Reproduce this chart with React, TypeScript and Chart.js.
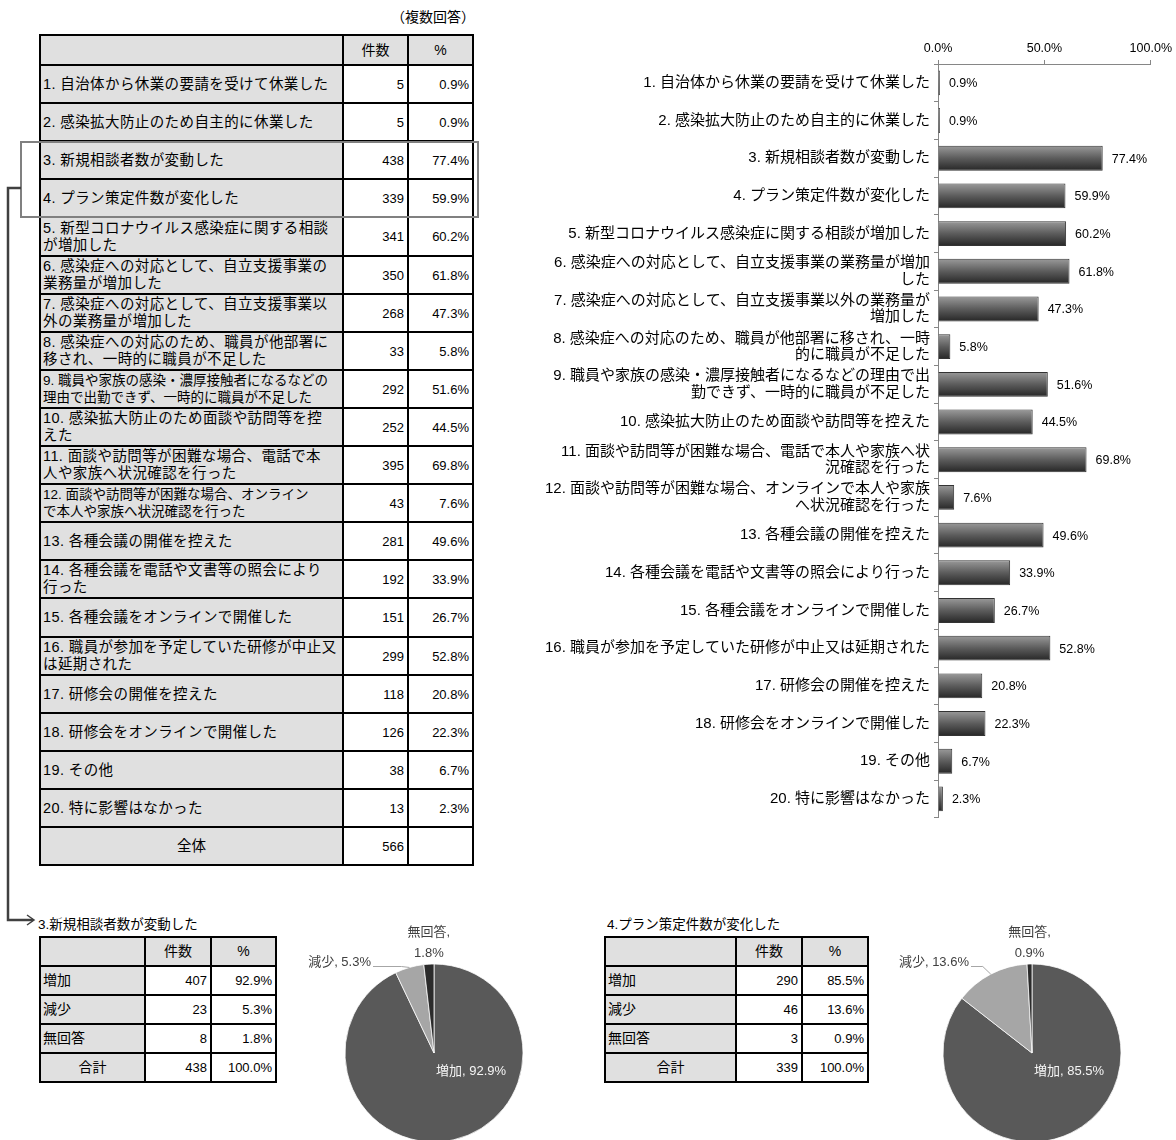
import React, { useEffect, useRef } from 'react';
import { Chart, registerables } from 'chart.js';

Chart.register(...registerables);

const FONT = "'Liberation Sans', 'Noto Sans CJK JP', sans-serif";

// ---------- data ----------
const barLabels: (string | string[])[] = [
  '1. 自治体から休業の要請を受けて休業した',
  '2. 感染拡大防止のため自主的に休業した',
  '3. 新規相談者数が変動した',
  '4. プラン策定件数が変化した',
  '5. 新型コロナウイルス感染症に関する相談が増加した',
  ['6. 感染症への対応として、自立支援事業の業務量が増加', 'した'],
  ['7. 感染症への対応として、自立支援事業以外の業務量が', '増加した'],
  ['8. 感染症への対応のため、職員が他部署に移され、一時', '的に職員が不足した'],
  ['9. 職員や家族の感染・濃厚接触者になるなどの理由で出', '勤できず、一時的に職員が不足した'],
  '10. 感染拡大防止のため面談や訪問等を控えた',
  ['11. 面談や訪問等が困難な場合、電話で本人や家族へ状', '況確認を行った'],
  ['12. 面談や訪問等が困難な場合、オンラインで本人や家族', 'へ状況確認を行った'],
  '13. 各種会議の開催を控えた',
  '14. 各種会議を電話や文書等の照会により行った',
  '15. 各種会議をオンラインで開催した',
  '16. 職員が参加を予定していた研修が中止又は延期された',
  '17. 研修会の開催を控えた',
  '18. 研修会をオンラインで開催した',
  '19. その他',
  '20. 特に影響はなかった',
];

const tableLabels: string[][] = [
  ['1. 自治体から休業の要請を受けて休業した'],
  ['2. 感染拡大防止のため自主的に休業した'],
  ['3. 新規相談者数が変動した'],
  ['4. プラン策定件数が変化した'],
  ['5. 新型コロナウイルス感染症に関する相談', 'が増加した'],
  ['6. 感染症への対応として、自立支援事業の', '業務量が増加した'],
  ['7. 感染症への対応として、自立支援事業以', '外の業務量が増加した'],
  ['8. 感染症への対応のため、職員が他部署に', '移され、一時的に職員が不足した'],
  ['9. 職員や家族の感染・濃厚接触者になるなどの', '理由で出勤できず、一時的に職員が不足した'],
  ['10. 感染拡大防止のため面談や訪問等を控', 'えた'],
  ['11. 面談や訪問等が困難な場合、電話で本', '人や家族へ状況確認を行った'],
  ['12. 面談や訪問等が困難な場合、オンライン', 'で本人や家族へ状況確認を行った'],
  ['13. 各種会議の開催を控えた'],
  ['14. 各種会議を電話や文書等の照会により', '行った'],
  ['15. 各種会議をオンラインで開催した'],
  ['16. 職員が参加を予定していた研修が中止又', 'は延期された'],
  ['17. 研修会の開催を控えた'],
  ['18. 研修会をオンラインで開催した'],
  ['19. その他'],
  ['20. 特に影響はなかった'],
];

const counts = [5, 5, 438, 339, 341, 350, 268, 33, 292, 252, 395, 43, 281, 192, 151, 299, 118, 126, 38, 13];
const percents = [0.9, 0.9, 77.4, 59.9, 60.2, 61.8, 47.3, 5.8, 51.6, 44.5, 69.8, 7.6, 49.6, 33.9, 26.7, 52.8, 20.8, 22.3, 6.7, 2.3];
const totalLabel = '全体';
const totalCount = 566;
const axisTicks = [0, 50, 100];

const subCategories = ['増加', '減少', '無回答'];
const subTotalLabel = '合計';

const consultTitle = '3.新規相談者数が変動した';
const consultCounts = [407, 23, 8];
const consultPercents = [92.9, 5.3, 1.8];
const consultTotal = 438;
const consultTotalPct = 100.0;

const planTitle = '4.プラン策定件数が変化した';
const planCounts = [290, 46, 3];
const planPercents = [85.5, 13.6, 0.9];
const planTotal = 339;
const planTotalPct = 100.0;

// ---------- styles ----------
const GRAY = '#e0e0e0';
const pieColors = ['#595959', '#a6a6a6', '#2b2b2b'];
const compactRows = new Set([8, 11]);

type Cell = { lines: string[]; align: 'left' | 'right' | 'center'; bg: string; size: number; spacing?: number };

function GridTable({ xs, ys, cells }: { xs: number[]; ys: number[]; cells: Cell[][] }) {
  const ox = xs[0] - 1;
  const oy = ys[0] - 1;
  return (
    <div
      style={{
        position: 'absolute',
        left: ox,
        top: oy,
        width: xs[xs.length - 1] - xs[0] + 2,
        height: ys[ys.length - 1] - ys[0] + 2,
        background: '#000',
      }}
    >
      {cells.map((row, r) =>
        row.map((c, ci) => (
          <div
            key={r + '-' + ci}
            style={{
              position: 'absolute',
              left: xs[ci] + 1 - ox,
              top: ys[r] + 1 - oy,
              width: xs[ci + 1] - xs[ci] - 2,
              height: ys[r + 1] - ys[r] - 2,
              background: c.bg,
              display: 'flex',
              flexDirection: 'column',
              justifyContent: 'center',
              alignItems: c.align === 'left' ? 'flex-start' : c.align === 'right' ? 'flex-end' : 'center',
              paddingLeft: c.align === 'left' ? 2 : 0,
              paddingRight: c.align === 'right' ? 3 : 0,
              boxSizing: 'border-box',
              fontSize: c.size,
              letterSpacing: c.spacing ?? 0,
              lineHeight: '17px',
              whiteSpace: 'nowrap',
              overflow: 'hidden',
            }}
          >
            {c.lines.map((l, i) => (
              <div key={i}>{l}</div>
            ))}
          </div>
        ))
      )}
    </div>
  );
}

function MainTable() {
  const xs = [40, 343, 408, 473];
  const ys = [35, 65];
  for (let k = 1; k <= tableLabels.length + 1; k++) ys.push(Math.round(65 + 38.1 * k));
  const cells: Cell[][] = [];
  cells.push([
    { lines: [''], align: 'center', bg: GRAY, size: 14 },
    { lines: ['件数'], align: 'center', bg: GRAY, size: 14 },
    { lines: ['%'], align: 'center', bg: GRAY, size: 14 },
  ]);
  tableLabels.forEach((lab, i) => {
    const compact = compactRows.has(i);
    cells.push([
      { lines: lab, align: 'left', bg: GRAY, size: compact ? 13.5 : 14.5, spacing: compact ? 0 : 0.4 },
      { lines: [String(counts[i])], align: 'right', bg: '#fff', size: 13 },
      { lines: [percents[i].toFixed(1) + '%'], align: 'right', bg: '#fff', size: 13 },
    ]);
  });
  cells.push([
    { lines: [totalLabel], align: 'center', bg: GRAY, size: 14.5 },
    { lines: [String(totalCount)], align: 'right', bg: '#fff', size: 13 },
    { lines: [''], align: 'right', bg: '#fff', size: 13 },
  ]);
  return <GridTable xs={xs} ys={ys} cells={cells} />;
}

function SmallTable({ xs, cnts, pcts, total, totalPct }: { xs: number[]; cnts: number[]; pcts: number[]; total: number; totalPct: number }) {
  const ys = [937, 966, 995, 1024, 1053, 1082];
  const cells: Cell[][] = [];
  cells.push([
    { lines: [''], align: 'center', bg: GRAY, size: 14 },
    { lines: ['件数'], align: 'center', bg: GRAY, size: 14 },
    { lines: ['%'], align: 'center', bg: GRAY, size: 14 },
  ]);
  subCategories.forEach((s, i) => {
    cells.push([
      { lines: [s], align: 'left', bg: GRAY, size: 14 },
      { lines: [String(cnts[i])], align: 'right', bg: '#fff', size: 13 },
      { lines: [pcts[i].toFixed(1) + '%'], align: 'right', bg: '#fff', size: 13 },
    ]);
  });
  cells.push([
    { lines: [subTotalLabel], align: 'center', bg: GRAY, size: 14 },
    { lines: [String(total)], align: 'right', bg: '#fff', size: 13 },
    { lines: [totalPct.toFixed(1) + '%'], align: 'right', bg: '#fff', size: 13 },
  ]);
  return <GridTable xs={xs} ys={ys} cells={cells} />;
}

const barValueLabels = {
  id: 'barValueLabels',
  afterDatasetsDraw(chart: any) {
    const ctx = chart.ctx;
    const meta = chart.getDatasetMeta(0);
    ctx.save();
    ctx.font = `12.5px ${FONT}`;
    ctx.fillStyle = '#000';
    ctx.textBaseline = 'middle';
    ctx.textAlign = 'left';
    meta.data.forEach((bar: any, i: number) => {
      const v = chart.data.datasets[0].data[i] as number;
      ctx.fillText(`${v.toFixed(1)}%`, bar.x + 9, bar.y + 1);
    });
    ctx.restore();
  },
};

const BAR_PCT = 0.66;

function BarChart() {
  const ref = useRef<HTMLCanvasElement>(null);
  useEffect(() => {
    const chart = new Chart(ref.current!, {
      type: 'bar',
      data: {
        labels: barLabels as any,
        datasets: [
          {
            data: percents,
            backgroundColor: (c: any) => {
              const ch = c.chart;
              const ys = ch.scales && ch.scales.y;
              if (!ys || c.type !== 'data') return '#555';
              const yc = ys.getPixelForValue(c.dataIndex);
              const half = ((ys.bottom - ys.top) / barLabels.length) * BAR_PCT / 2;
              if (!isFinite(yc) || !isFinite(half) || half <= 0) return '#555';
              const g = ch.ctx.createLinearGradient(0, yc - half, 0, yc + half);
              g.addColorStop(0, '#9a9a9a');
              g.addColorStop(0.5, '#5c5c5c');
              g.addColorStop(1, '#262626');
              return g;
            },
            borderColor: '#333',
            borderWidth: 1,
            barPercentage: BAR_PCT,
            categoryPercentage: 1,
          },
        ],
      },
      options: {
        indexAxis: 'y',
        responsive: false,
        animation: false,
        layout: { padding: { left: 0, right: 23, top: 0, bottom: 6 } },
        plugins: { legend: { display: false }, tooltip: { enabled: false } },
        scales: {
          x: {
            position: 'top',
            min: 0,
            max: 100,
            afterBuildTicks: (s: any) => {
              s.ticks = axisTicks.map((v) => ({ value: v }));
            },
            ticks: {
              callback: (v: any) => Number(v).toFixed(1) + '%',
              font: { family: FONT, size: 12.5 },
              color: '#000',
              padding: 4,
              maxRotation: 0,
            },
            grid: { drawOnChartArea: false, tickLength: 4, color: '#868686' },
            border: { color: '#868686' },
            afterFit: (s: any) => {
              s.height = 34;
            },
          },
          y: {
            ticks: {
              font: { family: FONT, size: 15, lineHeight: 1.1 },
              color: '#000',
              padding: 4,
              autoSkip: false,
            },
            grid: { drawOnChartArea: false, tickLength: 4, color: '#868686', offset: true },
            border: { color: '#868686' },
            afterFit: (s: any) => {
              s.width = 418;
            },
          },
        },
      } as any,
      plugins: [barValueLabels],
    });
    return () => chart.destroy();
  }, []);
  return (
    <canvas
      ref={ref}
      width={656}
      height={800}
      style={{ position: 'absolute', left: 520, top: 30, width: 656, height: 800, display: 'block' }}
    />
  );
}

function makePieLabels(pcts: number[]) {
  return {
    id: 'pieLabels',
    afterDatasetsDraw(chart: any) {
      const ctx = chart.ctx;
      const arcs = chart.getDatasetMeta(0).data as any[];
      const labels = chart.data.labels as string[];
      ctx.save();
      ctx.font = `13px ${FONT}`;
      ctx.textBaseline = 'middle';
      arcs.forEach((arc: any, i: number) => {
        const { x, y, startAngle, endAngle, outerRadius } = arc.getProps(
          ['x', 'y', 'startAngle', 'endAngle', 'outerRadius'],
          true
        );
        const mid = (startAngle + endAngle) / 2;
        const ox = x + Math.cos(mid) * outerRadius;
        const oy = y + Math.sin(mid) * outerRadius;
        const pctText = `${pcts[i].toFixed(1)}%`;
        if (i === 0) {
          ctx.fillStyle = '#f5f5f5';
          ctx.textAlign = 'left';
          ctx.fillText(`${labels[i]}, ${pctText}`, x + 2, y + 18);
        } else if (i === 1) {
          ctx.fillStyle = '#404040';
          ctx.textAlign = 'right';
          const tx = x - 63;
          const ty = y - 91;
          ctx.fillText(`${labels[i]}, ${pctText}`, tx, ty);
          ctx.strokeStyle = '#a6a6a6';
          ctx.lineWidth = 1;
          ctx.beginPath();
          ctx.moveTo(tx + 2, ty + 4.5);
          ctx.lineTo(ox - 8, ty + 4.5);
          ctx.lineTo(ox, oy);
          ctx.stroke();
        } else {
          ctx.fillStyle = '#404040';
          ctx.textAlign = 'center';
          ctx.fillText(`${labels[i]},`, ox, oy - 32);
          ctx.fillText(pctText, ox, oy - 11);
        }
      });
      ctx.restore();
    },
  };
}

function PieChart({ left, top, cnts, pcts }: { left: number; top: number; cnts: number[]; pcts: number[] }) {
  const ref = useRef<HTMLCanvasElement>(null);
  useEffect(() => {
    const chart = new Chart(ref.current!, {
      type: 'pie',
      data: {
        labels: subCategories,
        datasets: [
          {
            data: cnts,
            backgroundColor: pieColors,
            borderColor: '#ffffff',
            borderWidth: 0.75,
            radius: 89,
          } as any,
        ],
      },
      options: {
        responsive: false,
        animation: false,
        layout: { padding: 0 },
        plugins: { legend: { display: false }, tooltip: { enabled: false } },
      } as any,
      plugins: [makePieLabels(pcts)],
    });
    return () => chart.destroy();
  }, []);
  return (
    <canvas
      ref={ref}
      width={288}
      height={306}
      style={{ position: 'absolute', left, top, width: 288, height: 306, display: 'block' }}
    />
  );
}

function Connector() {
  return (
    <svg
      width={1176}
      height={1140}
      style={{ position: 'absolute', left: 0, top: 0, pointerEvents: 'none' }}
    >
      <rect x={21} y={142} width={457} height={75} fill="none" stroke="#808080" strokeWidth={2} />
      <polyline points="21,188 8,188 8,920 33,920" fill="none" stroke="#404040" strokeWidth={2.5} />
      <polyline points="27,915 34,920 27,925" fill="none" stroke="#404040" strokeWidth={1.5} />
    </svg>
  );
}

export default function App() {
  return (
    <div
      style={{
        position: 'absolute',
        left: 0,
        top: 0,
        width: 1176,
        height: 1140,
        overflow: 'hidden',
        background: '#fff',
        fontFamily: FONT,
        color: '#000',
      }}
    >
      <div style={{ position: 'absolute', left: 380, width: 95, textAlign: 'right', top: 8, fontSize: 14, lineHeight: '18px' }}>
        （複数回答）
      </div>
      <MainTable />
      <BarChart />
      <div style={{ position: 'absolute', left: 38, top: 916, fontSize: 13.5, lineHeight: '18px', whiteSpace: 'nowrap' }}>{consultTitle}</div>
      <SmallTable xs={[40, 145, 211, 276]} cnts={consultCounts} pcts={consultPercents} total={consultTotal} totalPct={consultTotalPct} />
      <PieChart left={290} top={900} cnts={consultCounts} pcts={consultPercents} />
      <div style={{ position: 'absolute', left: 607, top: 916, fontSize: 13.5, lineHeight: '18px', whiteSpace: 'nowrap' }}>{planTitle}</div>
      <SmallTable xs={[605, 736, 802, 868]} cnts={planCounts} pcts={planPercents} total={planTotal} totalPct={planTotalPct} />
      <PieChart left={888} top={900} cnts={planCounts} pcts={planPercents} />
      <Connector />
    </div>
  );
}
